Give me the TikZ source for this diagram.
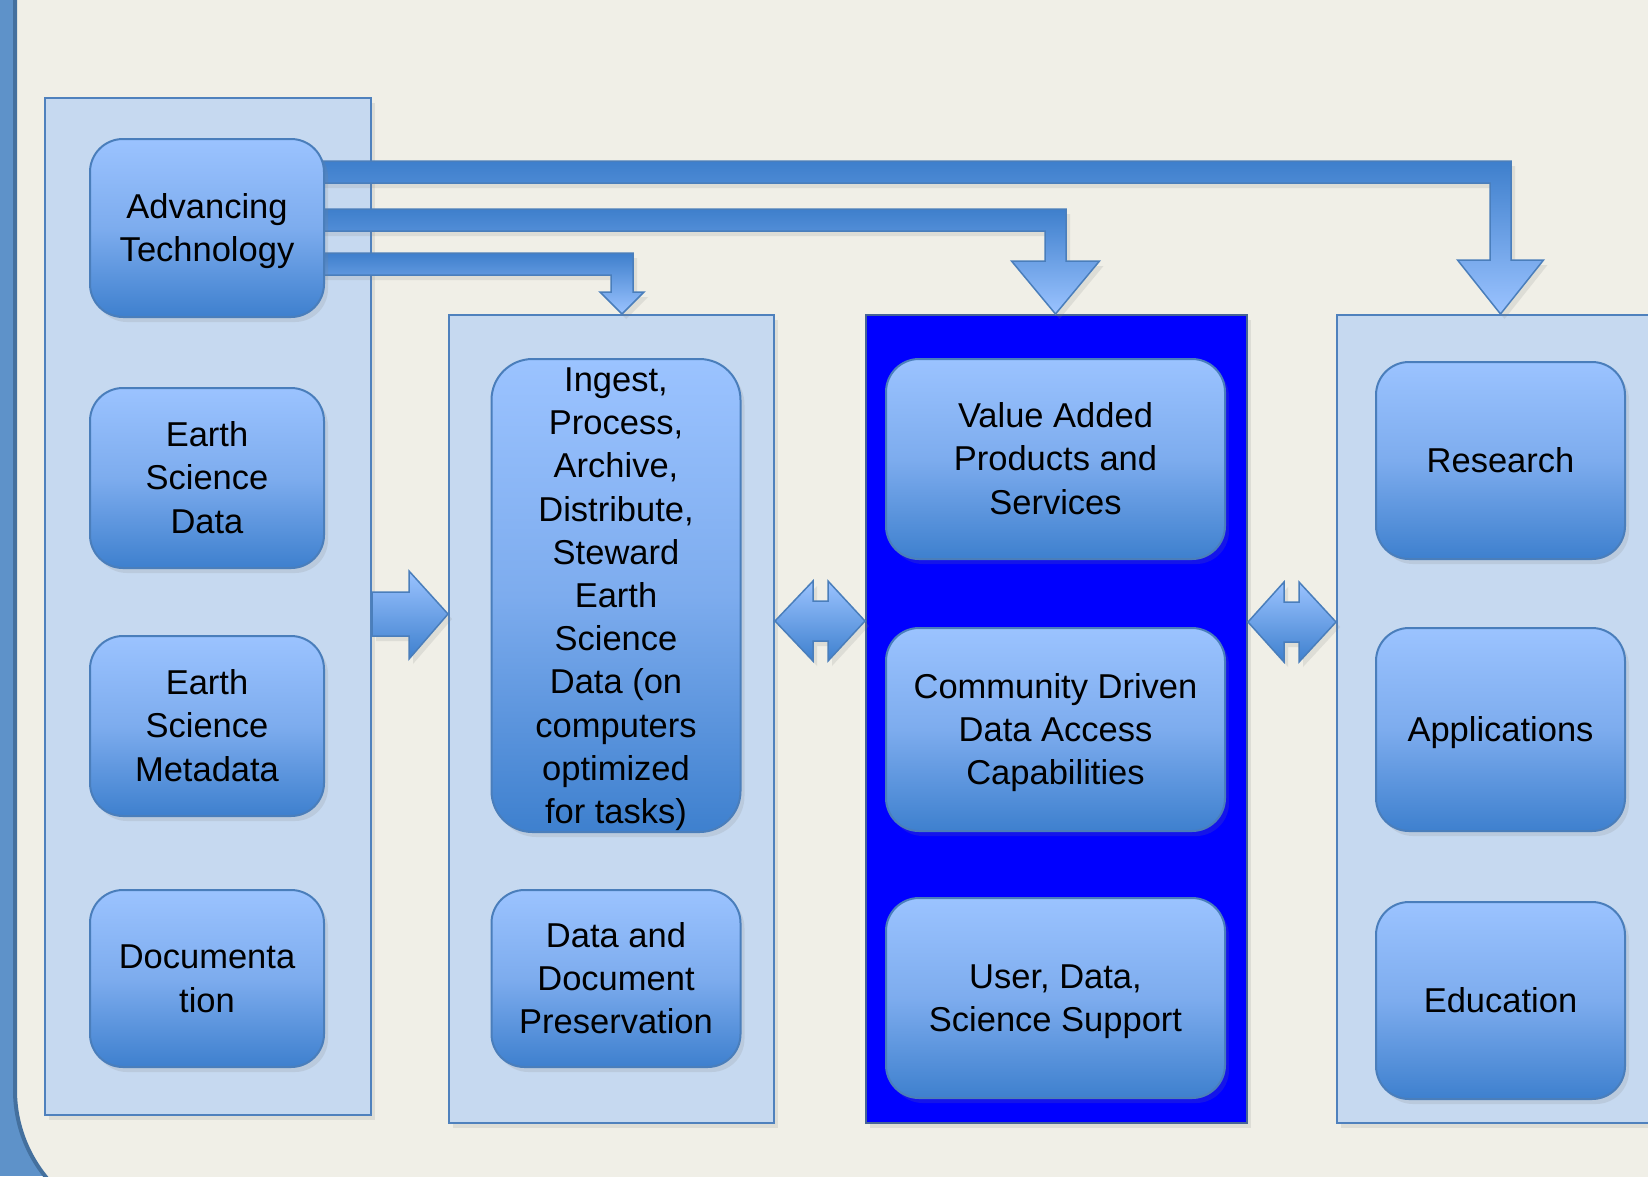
\documentclass[tikz,border=0pt]{standalone}
\usepackage{fontspec}
\setmainfont{Liberation Sans}
\usetikzlibrary{shadows,calc}
\definecolor{bgbeige}{RGB}{240,239,231}
\definecolor{framecol}{RGB}{94,146,201}
\definecolor{frameedge}{RGB}{68,112,158}
\definecolor{panelfill}{RGB}{198,217,240}
\definecolor{panelline}{RGB}{79,129,189}
\definecolor{boxtop}{RGB}{155,195,255}
\definecolor{boxmid}{RGB}{125,172,238}
\definecolor{boxbot}{RGB}{62,128,206}
\definecolor{boxline}{RGB}{74,126,187}
\definecolor{bardark}{RGB}{62,127,204}
\definecolor{barlight}{RGB}{155,195,255}
\definecolor{purebl}{RGB}{0,0,255}
\definecolor{blueline}{RGB}{70,100,150}
\newcommand\lnstrut{\rule[-0.212em]{0pt}{1.117em}}
\begin{document}
\begin{tikzpicture}[x=1pt,y=-1pt,
  shad/.style={drop shadow={opacity=0.16, shadow xshift=4pt, shadow yshift=-5pt}},
  panel/.style={draw=panelline, line width=2pt, fill=panelfill, inner sep=0pt, shad},
  gbox/.style={draw=boxline, line width=2pt, rounded corners=33pt,
    top color=boxtop, bottom color=boxbot, middle color=boxmid,
    inner sep=0pt, align=center, text=black,
    font=\fontsize{34.5pt}{43.2pt}\selectfont, shad},
  bararrow/.style={draw=boxline, line width=1.5pt, line join=miter,
    top color=bardark, bottom color=barlight, shad},
  blockarrow/.style={draw=boxline, line width=1.5pt, line join=miter,
    top color=boxtop, bottom color=boxbot, shad}
]
\useasboundingbox (0,0) rectangle (1648,1176);
\clip (0,0) rectangle (1648,1176);
% frame
\fill[framecol] (0,0) rectangle (1648,1176);
\draw[fill=bgbeige, draw=frameedge, line width=4pt, rounded corners=138pt] (15,-300) rectangle (1900,1228);

% panels
\node[panel, minimum width=326pt, minimum height=1017pt] (p1) at (208,606.5) {};
\node[panel, minimum width=325pt, minimum height=808pt] (p2) at (611.5,719) {};
\node[panel, fill=purebl, draw=blueline, minimum width=381pt, minimum height=808pt] (p3) at (1056.5,719) {};
\node[panel, minimum width=326pt, minimum height=808pt] (p4) at (1500,719) {};

% left end of the bars (hidden behind the Advancing Technology box)
\path (314,0) coordinate (advE);

% bars from Advancing Technology
\draw[bararrow] (advE |- 0,161) -- (1511,161) -- (1511,260) -- (1543.5,260)
  -- (1500.5,0 |- p4.north) -- (1457.5,260) -- (1490,260) -- (1490,183)
  -- (advE |- 0,183) -- cycle;
\draw[bararrow] (advE |- 0,209) -- (1066,209) -- (1066,261) -- (1099.5,261)
  -- (1055.5,0 |- p3.north) -- (1011.5,261) -- (1045,261) -- (1045,231)
  -- (advE |- 0,231) -- cycle;
\draw[bararrow] (advE |- 0,253) -- (633,253) -- (633,292) -- (644,292)
  -- (622,0 |- p2.north) -- (600,292) -- (611,292) -- (611,275)
  -- (advE |- 0,275) -- cycle;

% right arrow p1 -> p2
\draw[blockarrow] (p1.east |- 0,592) -- (409,592) -- (409,571) -- (p2.west |- 0,614)
  -- (409,659) -- (409,636) -- (p1.east |- 0,636) -- cycle;
% double arrows
\draw[blockarrow] (p2.east |- 0,621) -- (813,581) -- (813,601) -- (828,601) -- (828,581)
  -- (p3.west |- 0,621) -- (828,661) -- (828,641) -- (813,641) -- (813,661) -- cycle;
\draw[blockarrow] (p3.east |- 0,622) -- (1284,582) -- (1284,602) -- (1299,602) -- (1299,582)
  -- (p4.west |- 0,622) -- (1299,662) -- (1299,642) -- (1284,642) -- (1284,662) -- cycle;

% boxes left
\node[gbox, minimum width=234pt, minimum height=178pt] (adv) at (207,228) {\lnstrut Advancing\\Technology\lnstrut};
\node[gbox, minimum width=234pt, minimum height=180pt] (esd) at (207,478) {\lnstrut Earth\\Science\\Data\lnstrut};
\node[gbox, minimum width=234pt, minimum height=180pt] (esm) at (207,726) {\lnstrut Earth\\Science\\Metadata\lnstrut};
\node[gbox, minimum width=234pt, minimum height=177pt] (doc) at (207,978.5) {\lnstrut Documenta\\tion\lnstrut};
% middle
\node[gbox, rounded corners=41pt, minimum width=249pt, minimum height=473pt] (ing) at (616,595.5)
  {\lnstrut Ingest,\\Process,\\Archive,\\Distribute,\\Steward\\Earth\\Science\\Data (on\\computers\\optimized\\for tasks)\lnstrut};
\node[gbox, minimum width=249pt, minimum height=177pt] (pres) at (616,978.5) {\lnstrut Data and\\Document\\Preservation\lnstrut};
% blue panel
\node[gbox, minimum width=339pt, minimum height=200pt] (vap) at (1055.5,459) {\lnstrut Value Added\\Products and\\Services\lnstrut};
\node[gbox, minimum width=339pt, minimum height=203pt] (cdd) at (1055.5,729.5) {\lnstrut Community Driven\\Data Access\\Capabilities\lnstrut};
\node[gbox, minimum width=339pt, minimum height=200pt] (uds) at (1055.5,998) {\lnstrut User, Data,\\Science Support\lnstrut};
% right
\node[gbox, minimum width=249pt, minimum height=197pt] (res) at (1500.5,460.5) {\lnstrut Research\lnstrut};
\node[gbox, minimum width=249pt, minimum height=203pt] (app) at (1500.5,729.5) {\lnstrut Applications\lnstrut};
\node[gbox, minimum width=249pt, minimum height=197pt] (edu) at (1500.5,1000.5) {\lnstrut Education\lnstrut};
\end{tikzpicture}
\end{document}
